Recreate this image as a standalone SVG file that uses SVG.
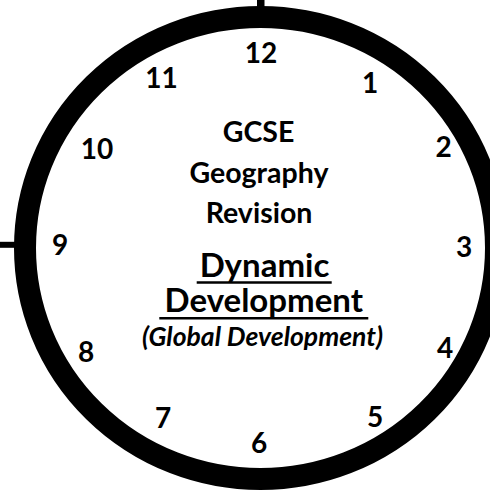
<svg xmlns="http://www.w3.org/2000/svg" width="490" height="490" viewBox="0 0 490 490">
<style>
.num{font-family:Lato,"Liberation Sans",sans-serif;font-weight:bold;font-size:28px;fill:#000;text-anchor:middle}
.head{font-family:Lato,"Liberation Sans",sans-serif;font-weight:bold;font-size:28.5px;fill:#000;text-anchor:middle}
.title{font-family:Lato,"Liberation Sans",sans-serif;font-weight:bold;font-size:33px;fill:#000;text-anchor:middle}
.sub{font-family:Lato,"Liberation Sans",sans-serif;font-weight:bold;font-style:italic;font-size:26.5px;fill:#000;text-anchor:middle}
.ul{stroke:#000;stroke-width:2.4}
</style>
<rect width="490" height="490" fill="#fff"/>
<g id="clock-face">
<ellipse cx="260.5" cy="248" rx="235.5" ry="231" fill="none" stroke="#000" stroke-width="22"/>
<rect x="257" y="0" width="7.5" height="10" fill="#000"/>
<rect x="0" y="241.8" width="18" height="6" fill="#000"/>
</g>
<g id="numbers">
<text class="num" x="261" y="63">12</text>
<text class="num" x="370" y="93">1</text>
<text class="num" x="443.5" y="157">2</text>
<text class="num" x="464" y="256.5">3</text>
<text class="num" x="445" y="358">4</text>
<text class="num" x="375" y="427">5</text>
<text class="num" x="259" y="453">6</text>
<text class="num" x="163" y="427.5">7</text>
<text class="num" x="86" y="361.5">8</text>
<text class="num" x="60" y="255">9</text>
<text class="num" x="97" y="159">10</text>
<text class="num" x="161.5" y="88">11</text>
</g>
<g id="heading">
<text class="head" x="258.5" y="142">GCSE</text>
<text class="head" x="259" y="182.7">Geography</text>
<text class="head" x="259" y="223">Revision</text>
</g>
<g id="title">
<text class="title" x="264.5" y="276.7">Dynamic</text>
<line class="ul" x1="196.7" y1="282.5" x2="331.7" y2="282.5"/>
<text class="title" x="263.8" y="311.7">Development</text>
<line class="ul" x1="159.3" y1="318.3" x2="368.3" y2="318.3"/>
<text class="sub" x="262.5" y="346">(Global Development)</text>
</g>
</svg>
